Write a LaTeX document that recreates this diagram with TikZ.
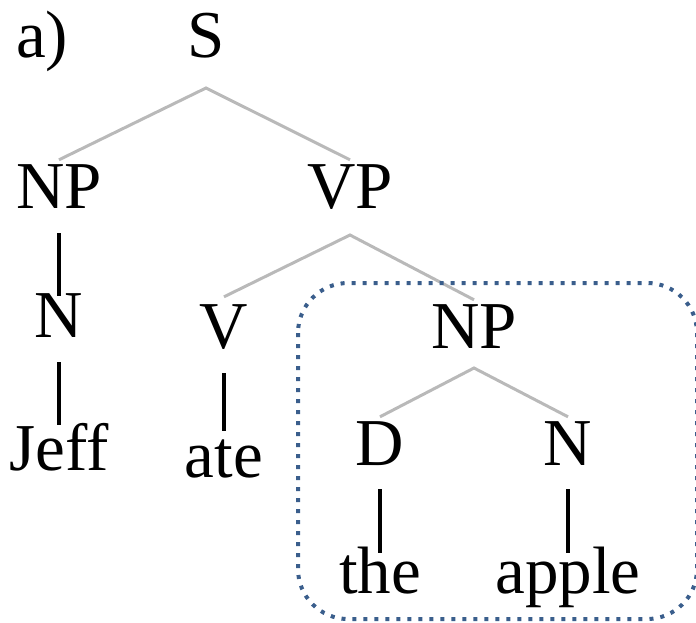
\documentclass[tikz,border=0pt]{standalone}
\usepackage{fontspec}
\setmainfont{Liberation Serif}
\definecolor{treegray}{RGB}{185,185,185}
\definecolor{boxblue}{RGB}{58,94,140}
\begin{document}
\begin{tikzpicture}[x=1pt,y=-1pt,
  lbl/.style={inner sep=0pt, anchor=base, text height=45pt, text depth=0pt,
              font=\fontsize{67}{80}\selectfont},
  branch/.style={draw=treegray, line width=3pt},
  stem/.style={draw=black, line width=3.6pt},
  frame/.style={draw=boxblue, line width=4pt, dash pattern=on 4pt off 7pt,
                rounded corners=50pt}]
\useasboundingbox (0,0) rectangle (696,622);

% labels of the tree
\node[lbl, anchor=base west] (lab) at (16,57) {a)};
\node[lbl] (S)     at (206,57)  {S};
\node[lbl] (NP1)   at (59,208)  {NP};
\node[lbl] (VP)    at (350,208) {VP};
\node[lbl] (N1)    at (59,337)  {N};
\node[lbl] (V)     at (224,348) {V};
\node[lbl] (NP2)   at (474,348) {NP};
\node[lbl] (Jeff)  at (59,470)  {Jeff};
\node[lbl] (ate)   at (224,477) {ate};
\node[lbl] (D)     at (380,465) {D};
\node[lbl] (N2)    at (568,465) {N};
\node[lbl] (the)   at (380,593) {the};
\node[lbl] (apple) at (568,593) {apple};

% branching edges
\draw[branch] ([yshift=3pt]NP1.north) -- ([yshift=-31pt]S.base) -- ([yshift=3pt]VP.north);
\draw[branch] ([yshift=6pt]V.north) -- ([yshift=-27pt]VP.base) -- ([yshift=3pt]NP2.north);
\draw[branch] ([yshift=3pt]D.north) -- ([yshift=-20pt]NP2.base) -- ([yshift=3pt]N2.north);

% unary edges
\draw[stem] ([yshift=-25pt]NP1.base) -- ([yshift=-4pt]N1.north);
\draw[stem] ([yshift=-25pt]N1.base) -- (Jeff.north);
\draw[stem] ([yshift=-25pt]V.base) -- ([yshift=1pt]ate.north);
\draw[stem] ([yshift=-24pt]D.base) -- ([yshift=-5pt]the.north);
\draw[stem] ([yshift=-24pt]N2.base) -- ([yshift=-5pt]apple.north);

% dotted frame round the object noun phrase
\draw[frame] (298,283) rectangle (697,619);
\end{tikzpicture}
\end{document}
